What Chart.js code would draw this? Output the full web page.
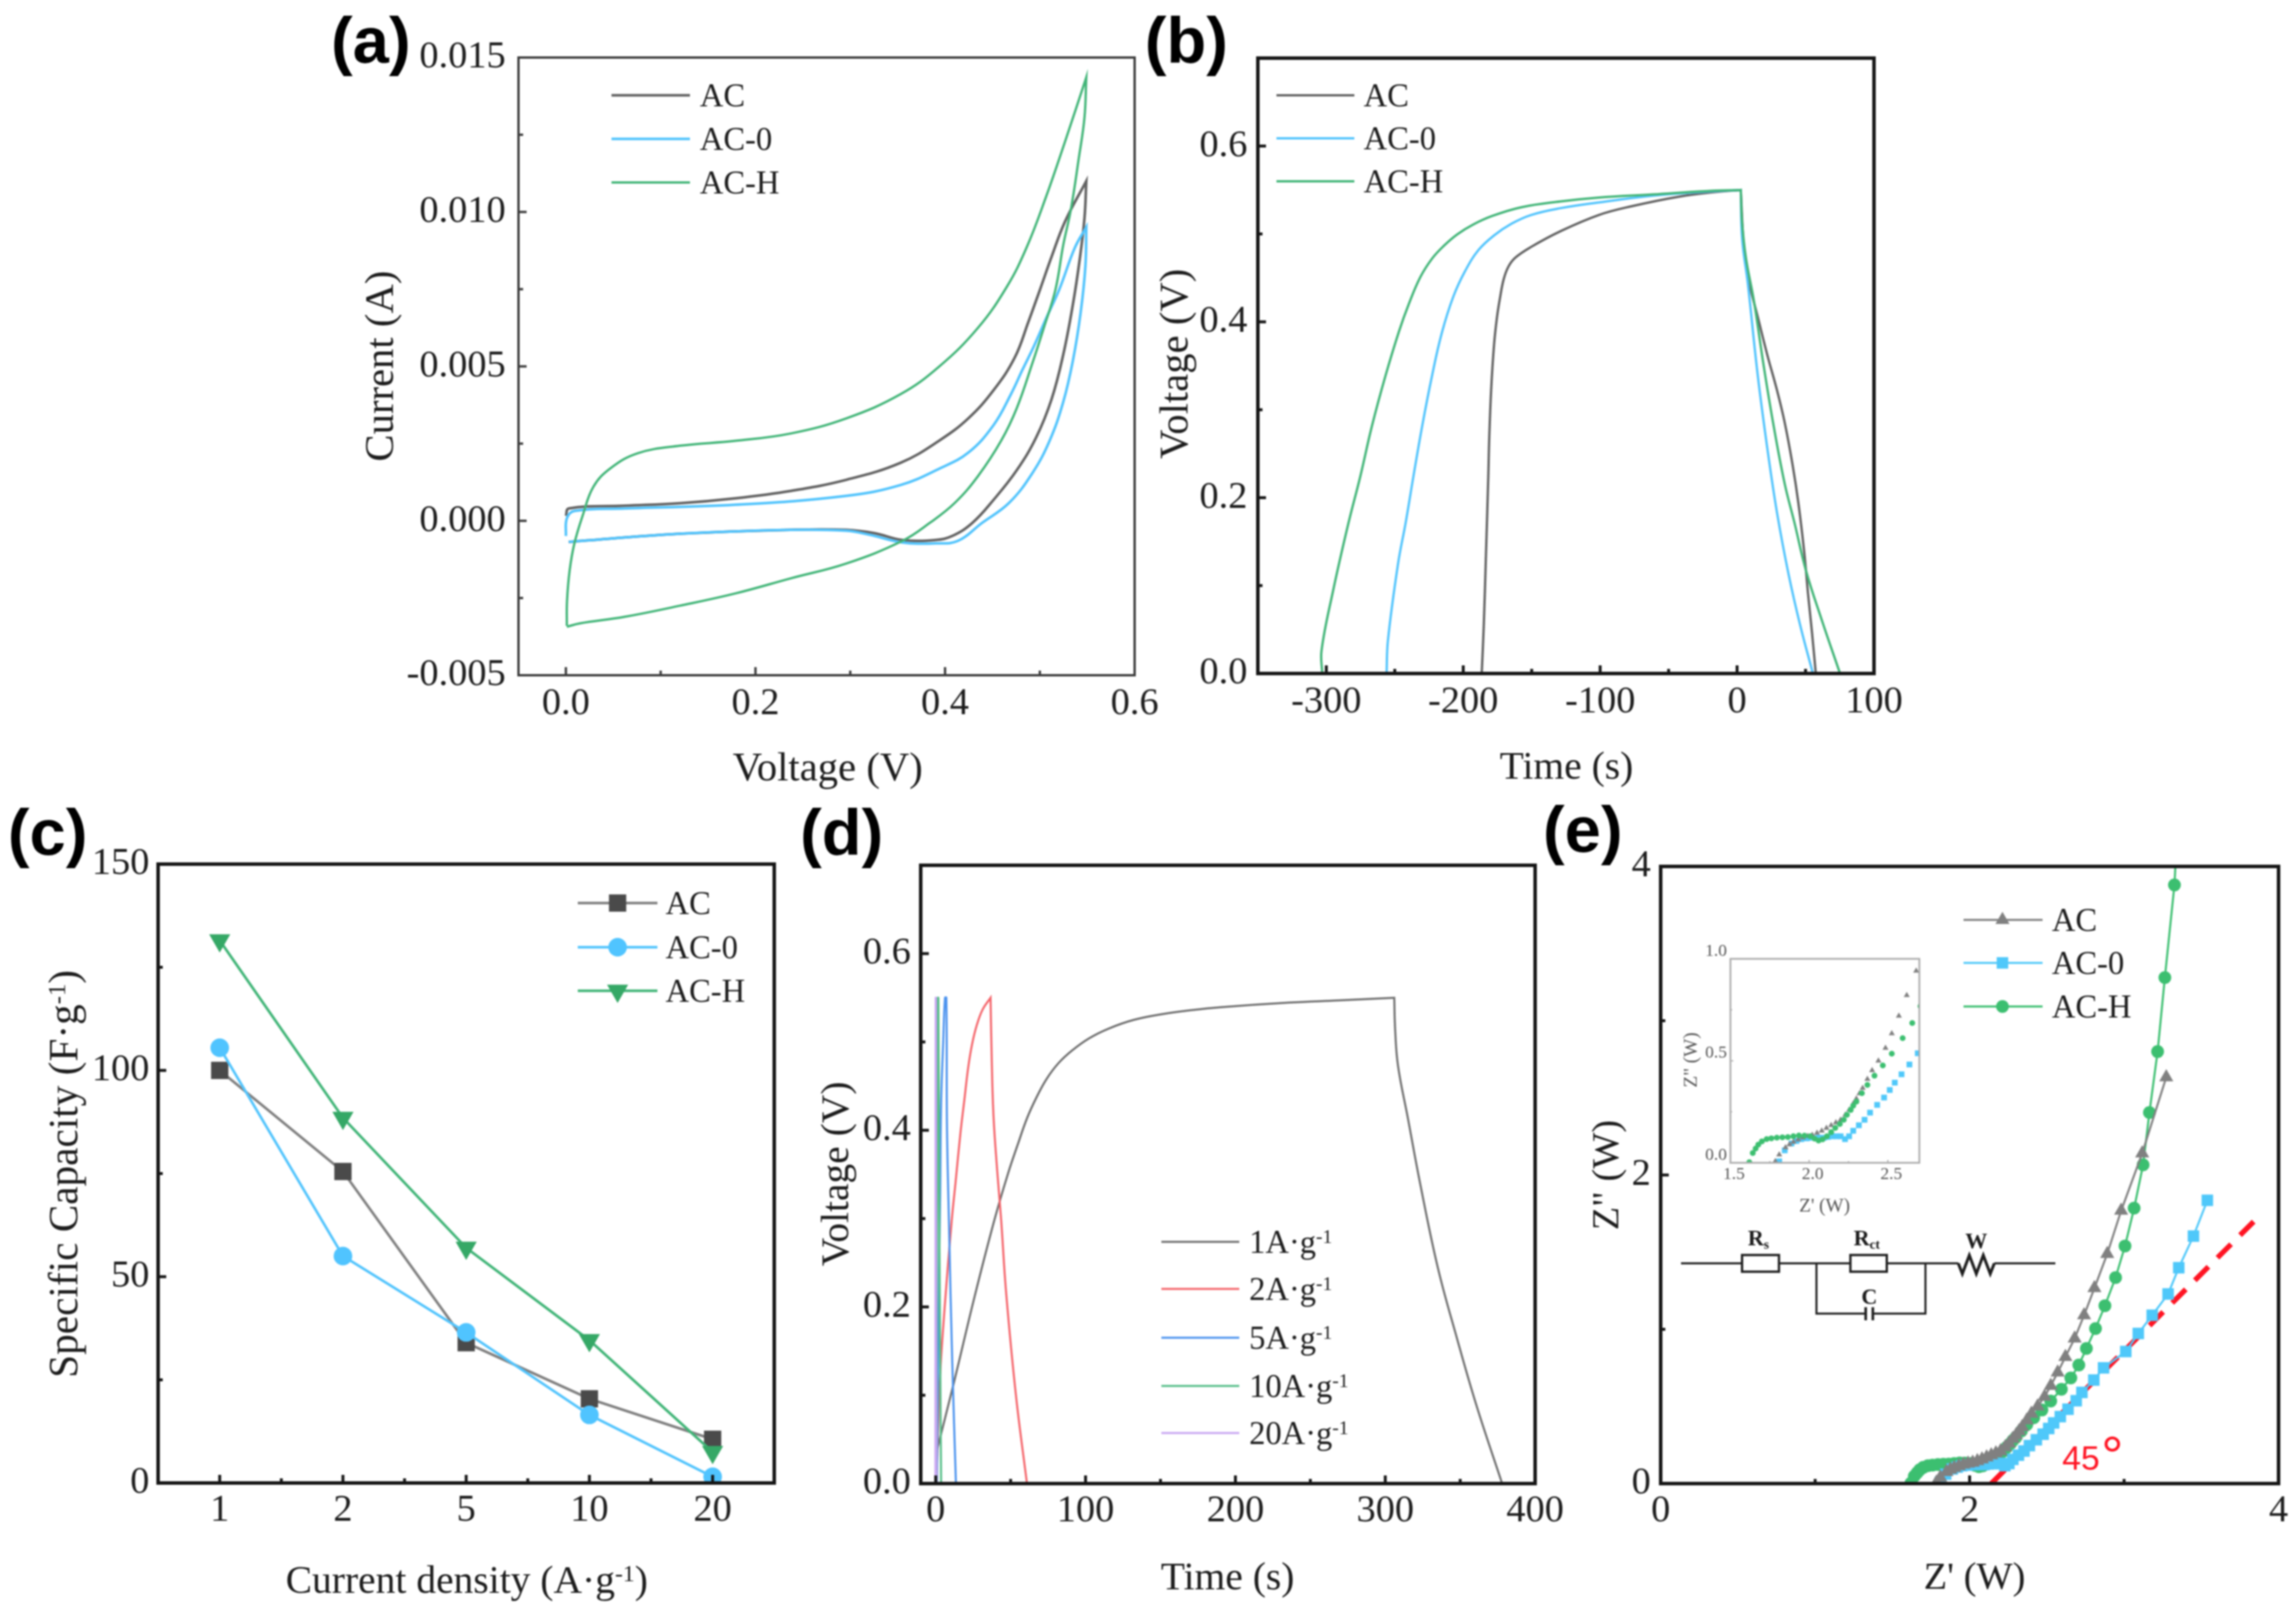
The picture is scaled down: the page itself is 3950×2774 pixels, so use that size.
<!DOCTYPE html>
<html>
<head>
<meta charset="utf-8">
<title>Electrochemical performance of AC, AC-0 and AC-H</title>
<script src="https://cdn.jsdelivr.net/npm/chart.js@4/dist/chart.umd.js"></script>
<style>
  html, body { margin: 0; padding: 0; background: #fff; }
  #page { position: relative; width: 3950px; height: 2774px; overflow: hidden; background: #fff; filter: blur(1.4px); }
  #page canvas { position: absolute; }
  #page svg { position: absolute; left: 0; top: 0; }
  .txt { position: absolute; white-space: nowrap; line-height: 1; color: #1c1c1c; font-family: "Liberation Serif", serif; }
  .up { font-size: .6em; position: relative; top: -.5em; }
</style>
</head>
<body>
<div id="page"></div>
<script>
// (a) cyclic voltammetry
const cvAcV = [0, .003, .0616, .12, .179, .2375, .296, .3531, .394, .4246, .4512, .4736, .4879, .5002, .5124, .5267, .549, .549, .5471, .542, .5349, .5247, .5124, .4961, .4757, .4512, .4287, .4076, .39, .355, .3255, .296, .2375, .12, .003]
const cvAcI = [.00016, .0004, .00049, .00057, .00073, .00097, .00133, .00188, .0026, .00332, .00423, .00529, .00644, .00749, .00855, .0097, .011, .011, .0098, .00845, .00701, .00538, .00394, .0027, .00164, .00068, -.00007, -.00049, -.00062, -.00062, -.0004, -.00029, -.00029, -.00042, -.00068]
const cvAc0V = [0, .001, .009, .0616, .179, .296, .3531, .394, .4246, .4512, .4695, .4818, .494, .5063, .5205, .5369, .549, .549, .5481, .543, .5349, .5247, .5104, .492, .4675, .4389, .4135, .39, .355, .32, .296, .2375, .12, .003]
const cvAc0I = [-.00049, .00008, .00032, .0004, .00052, .00081, .00116, .00169, .00221, .0031, .0041, .0049, .00567, .00653, .00749, .00884, .00951, .00951, .00826, .00673, .00519, .00385, .0026, .00154, .00058, -.00007, -.00065, -.00073, -.0007, -.00045, -.00032, -.00029, -.00042, -.00068]
const cvAcHV = [.001, .0012, .004, .009, .0176, .029, .047, .076, .12, .179, .2375, .296, .3531, .394, .4348, .4654, .4859, .5063, .5267, .549, .549, .5471, .541, .5328, .5247, .5165, .5042, .492, .4757, .4593, .4348, .4103, .3838, .355, .296, .2375, .179, .12, .0616, .0147, .001]
const cvAcHI = [-.0034, -.0026, -.0016, -.00073, .00016, .0011, .0017, .00219, .00243, .00259, .00283, .00332, .0041, .005, .00625, .00759, .00884, .01047, .01229, .01436, .01436, .01306, .01172, .01009, .00893, .00749, .00625, .00509, .00365, .0026, .00145, .00058, -.00007, -.00065, -.00138, -.00186, -.00235, -.00275, -.00311, -.00332, -.00343]
const cvXTicks = [0, .2, .4, .6]
const cvXMinor = [.1, .3, .5]
const cvYTicks = [-.005, 0, .005, .01, .015]
const cvYMinor = [-.0025, .0025, .0075, .0125]

// (b) charge and discharge at 1 A/g
const gcdAcT = [-186.5, -185, -183.5, -181.7, -181, -179.6, -177.5, -175.4, -173.2, -170.4, -166.9, -161.9, -150.6, -129.4, -101.1, -76.7, -42.5, -14, 2.7, 2.7, 5, 7.9, 15, 22.1, 29.2, 34.8, 40.5, 44.8, 49, 51.8, 54.7, 57.5]
const gcdAcV = [0, .0546, .13, .2241, .2681, .3232, .3739, .4047, .4268, .4488, .4631, .4731, .4851, .5028, .5215, .5316, .5424, .548, .55, .55, .4835, .4504, .4063, .3623, .322, .2853, .2377, .1936, .1386, .091, .0469, 0]
const gcdAc0T = [-256, -255, -247.6, -242, -236.4, -230, -222.8, -215.7, -207.2, -198.7, -188.8, -177.5, -164.8, -150.6, -129.4, -101.1, -61.5, -23.5, 2.7, 2.7, 3.7, 7.9, 15, 22.1, 29.2, 37.6, 46.2, 55.4]
const gcdAc0V = [0, .0376, .125, .172, .2241, .2814, .3386, .3871, .4289, .4576, .4818, .4983, .5116, .5215, .5292, .5358, .5435, .548, .55, .55, .4944, .443, .3404, .256, .1826, .113, .0542, 0]
const gcdAcHT = [-303, -303.5, -295, -284, -275.2, -266.7, -256.8, -246.9, -239.8, -231.3, -222.8, -214.3, -204.4, -193, -178.9, -157.7, -129.4, -101.1, -61.5, -23.5, 2.7, 2.7, 3.7, 6.5, 12.2, 19.3, 26.3, 34.8, 41.9, 50.4, 61.7, 75.2]
const gcdAcHV = [0, .026, .0945, .17, .2241, .2814, .3386, .3893, .4201, .451, .4719, .4863, .4995, .5105, .5204, .5303, .5369, .5414, .545, .5487, .55, .55, .5127, .4724, .4247, .3514, .2853, .2157, .1716, .1166, .0616, 0]
const gcdXTicks = [-300, -200, -100, 0, 100]
const gcdXMinor = [-250, -150, -50, 50]
const voltTicks = [0, .2, .4, .6]
const voltMinor = [.1, .3, .5]

// (c) rate capability
const rateLabels = ['1', '2', '5', '10', '20']
const rateAc = [100, 75.5, 34, 20.4, 10.6]
const rateAc0 = [105.5, 55, 36.5, 16.5, 1.5]
const rateAcH = [131.5, 88.5, 57, 34.6, 7.5]
const rateYTicks = [0, 50, 100, 150]
const rateYMinor = [25, 75, 125]
const rateXMinor = [.5, 1.5, 2.5, 3.5]

// (d) AC-H at several current densities
const d1T = [0, 12.5, 25.7, 39.1, 48.2, 54.7, 61.1, 67.6, 74, 81.8, 90.8, 102.4, 115.4, 132.2, 151.6, 170.9, 190.3, 236, 269, 306, 306, 306.6, 308.5, 315, 323.4, 335, 348, 361, 378]
const d1V = [.032, .1168, .21, .298, .3507, .3836, .4143, .4384, .4581, .4757, .49, .5041, .5151, .525, .5316, .536, .5393, .5445, .547, .55, .55, .5137, .473, .4145, .3386, .245, .1635, .0876, 0]
const d2T = [.6, 2.6, 6, 10.7, 13.3, 16.5, 19.1, 21.7, 24.3, 27.5, 31.4, 36.6, 36.6, 37.2, 38.5, 41.1, 43.7, 47, 53.6, 60.9]
const d2V = [0, .111, .2, .298, .3419, .3967, .434, .4713, .4976, .5195, .537, .55, .55, .4954, .4186, .3528, .298, .216, .099, 0]
const d5T = [.8, 2, 3, 3.6, 5, 6.2, 7.1, 7.5, 8.8, 11, 13.5]
const d5V = [0, .2, .33, .43, .5, .55, .55, .408, .298, .14, 0]
const d10T = [.5, 1, 1.4, 1.8, 2.4, 3.6]
const d10V = [0, .35, .55, .55, .3, 0]
const d20T = [-.2, -.1, 0, .2, .3, .5]
const d20V = [0, .3, .55, .55, .2, 0]
const dXTicks = [0, 100, 200, 300, 400]
const dXMinor = [50, 150, 250, 350]

// (e) Nyquist plot
const nyAcRe = [1.785, 1.81, 1.85, 1.875, 1.9, 1.93, 1.96, 1.99, 2.02, 2.05, 2.08, 2.11, 2.14, 2.17, 2.2, 2.23, 2.255, 2.28, 2.3, 2.32, 2.34, 2.37, 2.4, 2.44, 2.485, 2.525, 2.57, 2.62, 2.68, 2.741, 2.808, 2.891, 2.981, 3.117, 3.273]
const nyAcIm = [.007, .04, .075, .09, .102, .113, .123, .13, .136, .146, .157, .17, .184, .197, .21, .235, .26, .29, .314, .34, .366, .41, .453, .5, .563, .634, .72, .821, .941, 1.091, 1.267, 1.489, 1.769, 2.14, 2.634]
const nyAc0Re = [1.81, 1.845, 1.888, 1.92, 1.95, 1.985, 2.02, 2.06, 2.094, 2.12, 2.148, 2.175, 2.2, 2.228, 2.254, 2.28, 2.316, 2.352, 2.387, 2.432, 2.476, 2.512, 2.544, 2.587, 2.637, 2.69, 2.727, 2.804, 2.867, 3.011, 3.092, 3.182, 3.285, 3.354, 3.449, 3.539]
const nyAc0Im = [.007, .061, .095, .107, .116, .12, .123, .123, .123, .127, .13, .13, .13, .116, .13, .157, .184, .211, .246, .284, .32, .357, .393, .434, .482, .537, .591, .671, .75, .856, .973, 1.091, 1.229, 1.399, 1.604, 1.836]
const nyAcHRe = [1.62, 1.642, 1.66, 1.677, 1.7, 1.73, 1.76, 1.795, 1.83, 1.865, 1.9, 1.935, 1.97, 2.007, 2.035, 2.06, 2.085, 2.113, 2.14, 2.166, 2.195, 2.22, 2.24, 2.264, 2.28, 2.3, 2.335, 2.37, 2.415, 2.468, 2.525, 2.594, 2.655, 2.707, 2.756, 2.815, 2.876, 2.945, 3.006, 3.065, 3.123, 3.164, 3.217, 3.264, 3.326, 3.345]
const nyAcHIm = [.003, .048, .07, .089, .105, .116, .12, .123, .125, .126, .13, .134, .133, .13, .118, .109, .115, .13, .15, .171, .19, .211, .235, .259, .28, .3, .341, .382, .427, .477, .535, .611, .685, .768, .876, 1.005, 1.153, 1.335, 1.54, 1.785, 2.066, 2.405, 2.8, 3.28, 3.88, 4.25]
const slopeRe = [2.14, 3.881]
const slopeIm = [0, 1.74]
const nyTicks = [0, 2, 4]
const nyMinor = [1, 3]
const insetXTicks = [1.5, 2, 2.5]
const insetYTicks = [0, .5, 1]
const insetXMinor = [1.75, 2.25]
const insetYMinor = [.25, .75]

const GRAY = '#626262'
const BLUE = '#52C4FD'
const GREEN = '#42B578'
const SERIF = '"Liberation Serif", serif'

const page = document.getElementById('page')
const pts = (xs, ys) => xs.map((x, i) => ({ x, y: ys[i] }))

Chart.defaults.font.family = SERIF
Chart.defaults.color = '#1c1c1c'

// box, ticks and inward tick marks like the originals
const framePlugin = {
  id: 'frame',
  afterDatasetsDraw (chart, args, opts) {
    if (!opts.width) return
    const { ctx, chartArea: a, scales: { x, y } } = chart
    ctx.save()
    ctx.strokeStyle = opts.color
    ctx.lineWidth = opts.tickWidth
    const tick = (sc, v, len) => {
      ctx.beginPath()
      if (sc === x) {
        const p = x.getPixelForValue(v)
        ctx.moveTo(p, a.bottom)
        ctx.lineTo(p, a.bottom - len)
      } else {
        const p = y.getPixelForValue(v)
        ctx.moveTo(a.left, p)
        ctx.lineTo(a.left + len, p)
      }
      ctx.stroke()
    }
    x.ticks.forEach((t, i) => tick(x, x.type === 'category' ? i : t.value, opts.major))
    y.ticks.forEach(t => tick(y, t.value, opts.major))
    ;(opts.xMinor || []).forEach(v => tick(x, v, opts.minor))
    ;(opts.yMinor || []).forEach(v => tick(y, v, opts.minor))
    ctx.lineWidth = opts.width
    ctx.strokeRect(a.left, a.top, a.right - a.left, a.bottom - a.top)
    ctx.restore()
  }
}

// legend swatches, the words are plain text next to them
const keyPlugin = {
  id: 'key',
  afterDraw (chart, args, opts) {
    if (!opts.rows) return
    const { ctx } = chart
    const ox = chart.canvas.offsetLeft
    const oy = chart.canvas.offsetTop
    opts.rows.forEach((yy, i) => {
      const ds = chart.data.datasets[i]
      ctx.save()
      ctx.strokeStyle = ds.borderColor
      ctx.lineWidth = ds.borderWidth
      ctx.beginPath()
      ctx.moveTo(opts.x0 - ox, yy - oy)
      ctx.lineTo(opts.x1 - ox, yy - oy)
      ctx.stroke()
      if (opts.mark) {
        ctx.fillStyle = ds.pointBackgroundColor
        ctx.strokeStyle = ds.pointBackgroundColor
        Chart.helpers.drawPoint(ctx, {
          pointStyle: ds.pointStyle,
          radius: ds.pointRadius,
          rotation: ds.pointRotation || 0,
          borderWidth: 0
        }, opts.mark - ox, yy - oy)
      }
      ctx.restore()
    })
  }
}

Chart.register(framePlugin, keyPlugin)

function text (html, x, y, size, o = {}) {
  const el = document.createElement('div')
  el.className = 'txt'
  el.innerHTML = html
  el.style.left = x + 'px'
  el.style.top = y + 'px'
  el.style.fontSize = size + 'px'
  if (o.font) el.style.fontFamily = o.font
  if (o.bold) el.style.fontWeight = 'bold'
  if (o.color) el.style.color = o.color
  const ax = o.left ? '0' : '-50%'
  el.style.transform = `translate(${ax}, -50%)` + (o.rot ? ` rotate(${o.rot}deg)` : '')
  page.appendChild(el)
}

function panel ({ box, padL = 230, padR = 60, padT = 100, padB = 120, type = 'scatter', labels, datasets, x, y, frame, key }) {
  const [L, T, R, B] = box
  const canvas = document.createElement('canvas')
  canvas.width = R - L + padL + padR
  canvas.height = B - T + padT + padB
  canvas.style.left = (L - padL) + 'px'
  canvas.style.top = (T - padT) + 'px'
  canvas.style.width = canvas.width + 'px'
  canvas.style.height = canvas.height + 'px'
  page.appendChild(canvas)
  const fixTicks = list => list ? s => { s.ticks = list.map(value => ({ value })) } : undefined
  const tickOpts = a => ({
    font: { size: a.size || 66 },
    color: a.color || '#1c1c1c',
    padding: a.pad,
    autoSkip: false,
    maxRotation: 0,
    minRotation: 0,
    labelOffset: a.offset || 0,
    callback: a.fmt
  })
  return new Chart(canvas, {
    type,
    data: { labels, datasets },
    options: {
      responsive: false,
      animation: false,
      devicePixelRatio: 1,
      layout: { padding: { top: padT, right: padR, left: 0, bottom: 0 } },
      plugins: {
        legend: { display: false },
        tooltip: { enabled: false },
        frame,
        key: key || {}
      },
      scales: {
        x: {
          type: x.type || 'linear',
          min: x.min,
          max: x.max,
          offset: x.type === 'category',
          grid: { display: false, drawTicks: false },
          border: { display: false },
          ticks: tickOpts(x),
          afterBuildTicks: fixTicks(x.list),
          afterFit (s) { s.height = padB }
        },
        y: {
          min: y.min,
          max: y.max,
          grid: { display: false, drawTicks: false },
          border: { display: false },
          ticks: tickOpts(y),
          afterBuildTicks: fixTicks(y.list),
          afterFit (s) { s.width = padL }
        }
      }
    }
  })
}

const line = (label, xs, ys, color, width, order) => ({
  label, data: pts(xs, ys), showLine: true, borderColor: color, borderWidth: width,
  pointRadius: 0, tension: .4, order, fill: false
})
const f1 = v => v.toFixed(1)
const f3 = v => v.toFixed(3)
const f0 = v => String(v)
const frameThin = { color: '#3a3a3a', width: 4, tickWidth: 4, major: 14, minor: 8 }
const frameThick = { color: '#141414', width: 6, tickWidth: 5, major: 14, minor: 8 }

// (a)
panel({
  box: [892, 99, 1952, 1162],
  datasets: [
    line('AC', cvAcV, cvAcI, GRAY, 4.5, 3),
    line('AC-0', cvAc0V, cvAc0I, BLUE, 4.5, 2),
    line('AC-H', cvAcHV, cvAcHI, GREEN, 4, 1)
  ],
  x: { min: -.05, max: .6, list: cvXTicks, fmt: f1, pad: 10 },
  y: { min: -.005, max: .015, list: cvYTicks, fmt: f3, pad: 22 },
  frame: { ...frameThin, xMinor: cvXMinor, yMinor: cvYMinor },
  key: { x0: 1052, x1: 1187, rows: [164, 239, 314] }
})
// (b)
panel({
  box: [2164, 100, 3224, 1159],
  datasets: [
    line('AC', gcdAcT, gcdAcV, GRAY, 4, 3),
    line('AC-0', gcdAc0T, gcdAc0V, BLUE, 4, 2),
    line('AC-H', gcdAcHT, gcdAcHV, GREEN, 4, 1)
  ],
  x: { min: -350, max: 100, list: gcdXTicks, fmt: f0, pad: 10 },
  y: { min: 0, max: .7, list: voltTicks, fmt: f1, pad: 18 },
  frame: { ...frameThick, xMinor: gcdXMinor, yMinor: voltMinor },
  key: { x0: 2196, x1: 2330, rows: [164, 238, 312] }
})
// (c)
const rateSet = (label, data, color, mark, pointStyle, pointRadius, pointRotation, order) => ({
  label, data, borderColor: color, borderWidth: 4.5, tension: 0, order,
  pointStyle, pointRadius, pointRotation, pointBackgroundColor: mark, pointBorderWidth: 0
})
panel({
  box: [272, 1487, 1332, 2552],
  padL: 260,
  type: 'line',
  labels: rateLabels,
  datasets: [
    rateSet('AC', rateAc, '#808080', '#4a4a4a', 'rect', 21, 0, 3),
    rateSet('AC-0', rateAc0, BLUE, '#50C4FF', 'circle', 16, 0, 2),
    rateSet('AC-H', rateAcH, GREEN, '#35A866', 'triangle', 21, 180, 1)
  ],
  x: { type: 'category', pad: 8, fmt: (v, i) => rateLabels[i] },
  y: { min: 0, max: 150, list: rateYTicks, fmt: f0, pad: 15 },
  frame: { ...frameThick, xMinor: rateXMinor, yMinor: rateYMinor },
  key: { x0: 994, x1: 1131, mark: 1062.5, rows: [1554, 1630, 1705] }
})
// (d)
panel({
  box: [1584, 1489, 2641, 2553],
  datasets: [
    line('1A', d1T, d1V, '#6e6e6e', 3.5, 5),
    line('2A', d2T, d2V, '#F4646A', 3.5, 4),
    line('5A', d5T, d5V, '#4C93EE', 3.5, 3),
    line('10A', d10T, d10V, '#56BE88', 3.5, 2),
    line('20A', d20T, d20V, '#C9A6F2', 3.5, 1)
  ],
  x: { min: -10, max: 400, list: dXTicks, fmt: f0, pad: 8 },
  y: { min: 0, max: .7, list: voltTicks, fmt: f1, pad: 17 },
  frame: { ...frameThick, xMinor: dXMinor, yMinor: voltMinor },
  key: { x0: 1998, x1: 2132, rows: [2137, 2218, 2302, 2385, 2466] }
})
// (e)
const nySet = (label, xs, ys, color, pointStyle, pointRadius) => ({
  label, data: pts(xs, ys), showLine: true, borderColor: color, borderWidth: 3.5, tension: 0,
  pointStyle, pointRadius, pointBackgroundColor: color, pointBorderWidth: 0
})
panel({
  box: [2857, 1491, 3920, 2553],
  datasets: [
    nySet('AC', nyAcRe, nyAcIm, '#808080', 'triangle', 14),
    nySet('AC-0', nyAc0Re, nyAc0Im, '#4FC8FA', 'rect', 14),
    nySet('AC-H', nyAcHRe, nyAcHIm, '#3CBF70', 'circle', 11),
    {
      label: '45 degree guide',
      data: pts(slopeRe, slopeIm),
      showLine: true,
      borderColor: '#FF1322',
      borderWidth: 9,
      borderDash: [33, 22],
      pointRadius: 0
    }
  ],
  x: { min: 0, max: 4, list: nyTicks, fmt: f0, pad: 8 },
  y: { min: 0, max: 4, list: nyTicks, fmt: f0, pad: 17 },
  frame: { ...frameThick, xMinor: nyMinor, yMinor: nyMinor },
  key: { x0: 3378, x1: 3514, mark: 3445, rows: [1583, 1657, 1732] }
})
// inset of (e)
const dotSet = (label, xs, ys, color, pointStyle, pointRadius, order) => ({
  label, data: pts(xs, ys), showLine: false, pointStyle, pointRadius, order,
  pointBackgroundColor: color, pointBorderWidth: 0
})
panel({
  box: [2977, 1650, 3302, 2001],
  padL: 60,
  padR: 10,
  padT: 30,
  padB: 50,
  datasets: [
    dotSet('AC', nyAcRe, nyAcIm, '#808080', 'triangle', 6, 2),
    dotSet('AC-0', nyAc0Re, nyAc0Im, '#4FC8FA', 'rect', 7, 3),
    dotSet('AC-H', nyAcHRe, nyAcHIm, '#3CBF70', 'circle', 5, 1)
  ],
  x: { min: 1.5, max: 2.7, list: insetXTicks, fmt: f1, pad: 2, size: 30, color: '#555', offset: 6 },
  y: { min: 0, max: 1, list: insetYTicks, fmt: f1, pad: 6, size: 30, color: '#555', offset: -13 },
  frame: { color: '#aaaaaa', width: 3, tickWidth: 2, major: 5, minor: 3, xMinor: insetXMinor, yMinor: insetYMinor }
})

// equivalent circuit
const svg = `<svg width="3950" height="2774" fill="none" stroke="#1e1e1e" stroke-width="3.5">
  <path d="M2892 2174H2997M3060.5 2174H3183.4M3246 2174H3369M3431 2174H3536"/>
  <rect x="2997" y="2159.7" width="63.5" height="28.7" stroke-width="4"/>
  <rect x="3183.4" y="2159.7" width="62.6" height="28.7" stroke-width="4"/>
  <path d="M3125 2174V2260.6H3209.7M3222 2260.6H3312.5V2174"/>
  <path d="M3209.7 2249.6V2272M3222 2249.6V2272" stroke-width="4.5"/>
  <path d="M3369 2174L3376 2192L3388 2160L3400 2192L3412 2160L3424 2192L3431 2174" stroke-width="5"/>
</svg>`
page.insertAdjacentHTML('beforeend', svg)

// panel letters
const SANS = '"Liberation Sans", sans-serif'
text('(a)', 638, 70, 112, { font: SANS, bold: true, color: '#000' })
text('(b)', 2041, 70, 112, { font: SANS, bold: true, color: '#000' })
text('(c)', 82, 1433, 112, { font: SANS, bold: true, color: '#000' })
text('(d)', 1448, 1433, 112, { font: SANS, bold: true, color: '#000' })
text('(e)', 2723, 1428, 112, { font: SANS, bold: true, color: '#000' })

// axis titles
const gm1 = '<span class="up">-1</span>'
text('Voltage (V)', 1424, 1320, 70)
text('Current (A)', 653, 630, 70, { rot: -90 })
text('Time (s)', 2695, 1317, 68)
text('Voltage (V)', 2020, 626, 70, { rot: -90 })
text(`Current density (A·g${gm1})`, 803, 2718, 68)
text(`Specific Capacity (F·g${gm1})`, 109, 2020, 71, { rot: -90 })
text('Time (s)', 2112, 2712, 68)
text('Voltage (V)', 1436, 2020, 68, { rot: -90 })
text("Z' (W)", 3397, 2712, 66)
text('Z" (W)', 2762, 2022, 66, { rot: -90 })
text("Z' (W)", 3139, 2074, 33, { color: '#555' })
text('Z" (W)', 2908, 1824, 33, { rot: -90, color: '#555' })

// legend words
const keyWords = ['AC', 'AC-0', 'AC-H']
const keyText = (x, rows, words) => words.forEach((w, i) => text(w, x, rows[i], 56, { left: true }))
keyText(1204, [164, 239, 314], keyWords)
keyText(2346, [164, 238, 312], keyWords)
keyText(1145, [1554, 1630, 1705], keyWords)
keyText(3530, [1583, 1657, 1732], keyWords)
keyText(2149, [2137, 2218, 2302, 2385, 2466], ['1', '2', '5', '10', '20'].map(d => `${d}A·g${gm1}`))

// circuit labels and the slope note
const BOLD = { bold: true, left: true }
text('R<span style="font-size:.6em;position:relative;top:.25em">s</span>', 3007, 2130, 38, BOLD)
text('R<span style="font-size:.6em;position:relative;top:.25em">ct</span>', 3189, 2130, 38, BOLD)
text('C', 3216, 2231, 38, { bold: true })
text('W', 3400, 2135, 38, { bold: true })
text('45', 3580, 2509, 58, { font: SANS, color: '#FF1322' })
text('°', 3634, 2505, 95, { font: SANS, color: '#FF1322' })
</script>
</body>
</html>
